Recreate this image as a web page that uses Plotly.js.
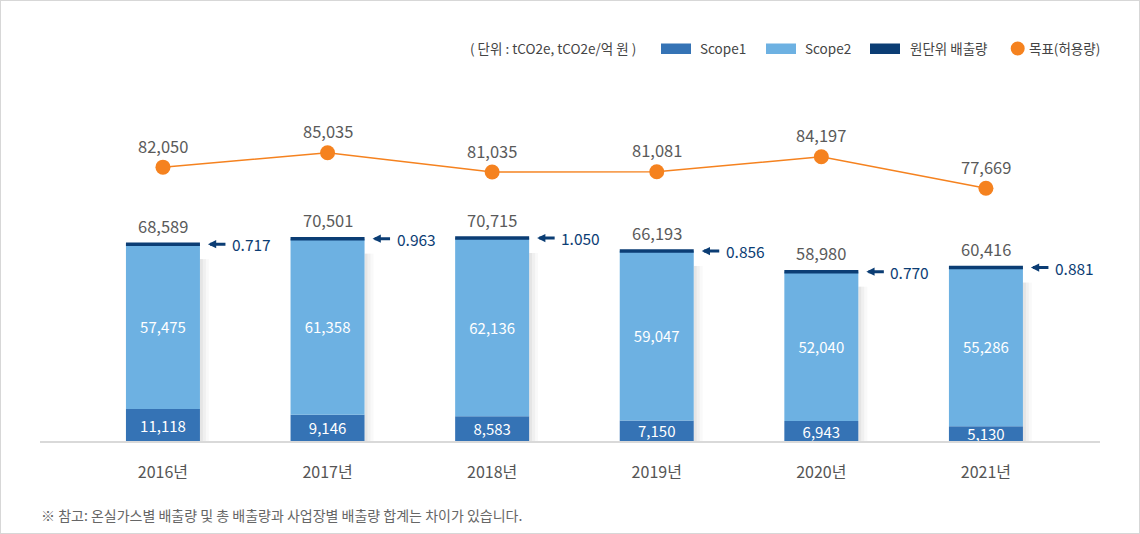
<!DOCTYPE html>
<html><head><meta charset="utf-8">
<script src="https://cdn.plot.ly/plotly-3.0.1.min.js"></script>
<style>
html,body{margin:0;padding:0;background:#fff}
#wrap{position:relative;width:1140px;height:534px}
#chart{width:1140px;height:534px}
#frame{position:absolute;left:0;top:0;width:1140px;height:534px;box-sizing:border-box;border:1px solid #d7d7d7;pointer-events:none}
</style>
</head><body>
<div id="wrap"><div id="chart"></div><div id="frame"></div></div>
<script>
// ---- data ----
const years = ['2016년', '2017년', '2018년', '2019년', '2020년', '2021년'];
const scope1 = [11118, 9146, 8583, 7150, 6943, 5130];
const scope2 = [57475, 61358, 62136, 59047, 52040, 55286];
const totals = [68589, 70501, 70715, 66193, 58980, 60416];
const intensity = ['0.717', '0.963', '1.050', '0.856', '0.770', '0.881'];
const targets = [82050, 85035, 81035, 81081, 84197, 77669];
const unitText = '( 단위 : tCO2e, tCO2e/억 원 )';
const legendNames = ['Scope1', 'Scope2', '원단위 배출량', '목표(허용량)'];
const footnote = '※ 참고: 온실가스별 배출량 및 총 배출량과 사업장별 배출량 합계는 차이가 있습니다.';

// ---- layout constants ----
const FONT = '"Noto Sans CJK KR", "Noto Sans", sans-serif';
const W = 1140, H = 534, L = 40, R = 40, T = 100, B = 93;
const plotW = W - L - R, plotH = H - T - B;
const XMIN = -0.747, XMAX = 5.693;
const unitPx = plotW / (XMAX - XMIN);
const BAR_W = 74 / unitPx;
const C1 = '#3573b5', C2 = '#6db1e2', NAVY = '#0b3d74', ORANGE = '#f5821f';
const px = v => (v - L) / plotW;
const py = v => (H - B - v) / plotH;
const fmt = v => v.toLocaleString('en-US');
const idx = years.map((_, i) => i);

const traces = [];
// soft shadow to the right of each bar
const shA = [0.1, 0.06, 0.025];
shA.forEach((a, k) => {
  traces.push({
    type: 'bar', x: idx, y: totals.map(v => v - 5200),
    width: 3 / unitPx, offset: BAR_W / 2 + k * 3 / unitPx,
    marker: {color: 'rgba(0,0,0,' + a + ')', line: {width: 0}},
    hoverinfo: 'skip', showlegend: false
  });
});
traces.push({
  type: 'bar', name: legendNames[0], x: idx, y: scope1, width: BAR_W,
  marker: {color: C1, line: {width: 0}},
  text: scope1.map(fmt), textposition: 'inside', insidetextanchor: 'middle',
  constraintext: 'none', textangle: 0,
  textfont: {family: FONT, size: 15, color: '#ffffff'}
});
traces.push({
  type: 'bar', name: legendNames[1], x: idx, y: scope2, base: scope1, width: BAR_W,
  marker: {color: C2, line: {width: 0}},
  text: scope2.map(fmt), textposition: 'inside', insidetextanchor: 'middle',
  constraintext: 'none', textangle: 0,
  textfont: {family: FONT, size: 15, color: '#ffffff'}
});
traces.push({
  type: 'scatter', name: legendNames[2], x: idx, y: totals, mode: 'markers',
  marker: {symbol: 'line-ew', size: 74 / 1.4, line: {width: 3.5, color: NAVY}},
  hoverinfo: 'skip'
});
traces.push({
  type: 'scatter', name: legendNames[3], x: idx, y: targets, yaxis: 'y2',
  mode: 'lines+markers', line: {color: ORANGE, width: 1.5},
  marker: {size: 15, color: ORANGE}, hoverinfo: 'skip'
});

const annotations = [];
idx.forEach(i => {
  annotations.push({x: i, y: totals[i], xref: 'x', yref: 'y', yshift: 18.5,
    text: fmt(totals[i]), showarrow: false, yanchor: 'middle',
    font: {family: FONT, size: 16.5, color: '#5a5a5a'}});
  annotations.push({x: i, y: targets[i], xref: 'x', yref: 'y2', yshift: 21.5,
    text: fmt(targets[i]), showarrow: false, yanchor: 'middle',
    font: {family: FONT, size: 16.5, color: '#5a5a5a'}});
  annotations.push({x: i + BAR_W / 2 + 8 / unitPx, y: totals[i], xref: 'x', yref: 'y',
    text: '', showarrow: true, ax: 19, ay: 0, arrowhead: 2, arrowsize: 0.55,
    arrowwidth: 3, arrowcolor: NAVY, standoff: 0});
  annotations.push({x: i, y: totals[i], xref: 'x', yref: 'y', xshift: 67,
    xanchor: 'left', yanchor: 'middle', text: intensity[i], showarrow: false,
    font: {family: FONT, size: 15.5, color: NAVY}});
});
const legFont = {family: FONT, size: 13.5, color: '#444'};
annotations.push({xref: 'paper', yref: 'paper', x: px(468), y: py(48.5), xanchor: 'left', yanchor: 'middle',
  text: unitText, showarrow: false, font: legFont});
const legItems = [
  {sx: 661, tx: 698, color: C1, name: legendNames[0]},
  {sx: 766, tx: 803, color: C2, name: legendNames[1]},
  {sx: 870, tx: 908, color: NAVY, name: legendNames[2]}
];
const shapes = [];
legItems.forEach(it => {
  shapes.push({type: 'rect', xref: 'paper', yref: 'paper', x0: px(it.sx), x1: px(it.sx + 30),
    y0: py(54), y1: py(43.5), fillcolor: it.color, line: {width: 0}});
  annotations.push({xref: 'paper', yref: 'paper', x: px(it.tx), y: py(48.5), xanchor: 'left', yanchor: 'middle',
    text: it.name, showarrow: false, font: legFont});
});
shapes.push({type: 'circle', xref: 'paper', yref: 'paper', x0: px(1010.7), x1: px(1024.7),
  y0: py(55.5), y1: py(41.5), fillcolor: ORANGE, line: {width: 0}});
annotations.push({xref: 'paper', yref: 'paper', x: px(1027), y: py(48.5), xanchor: 'left', yanchor: 'middle',
  text: legendNames[3], showarrow: false, font: legFont});
annotations.push({xref: 'paper', yref: 'paper', x: px(39), y: py(515), xanchor: 'left', yanchor: 'middle',
  text: footnote, showarrow: false, font: {family: FONT, size: 14, color: '#666'}});

const layout = {
  width: W, height: H, margin: {l: L, r: R, t: T, b: B},
  paper_bgcolor: '#fff', plot_bgcolor: '#fff',
  barmode: 'overlay', showlegend: false,
  font: {family: FONT},
  xaxis: {range: [XMIN, XMAX], tickvals: idx, ticktext: years, showline: true,
    linecolor: '#d9d9d9', linewidth: 1.5, showgrid: false, zeroline: false, ticks: '',
    ticklabelstandoff: 16, tickfont: {family: FONT, size: 16, color: '#555'}, fixedrange: true},
  yaxis: {range: [0, plotH / 0.00287], visible: false, fixedrange: true},
  yaxis2: {range: [25171, 25171 + plotH / 0.004815], overlaying: 'y', visible: false, fixedrange: true},
  annotations: annotations, shapes: shapes
};
Plotly.newPlot('chart', traces, layout, {displayModeBar: false, staticPlot: true});
</script>
</body></html>
